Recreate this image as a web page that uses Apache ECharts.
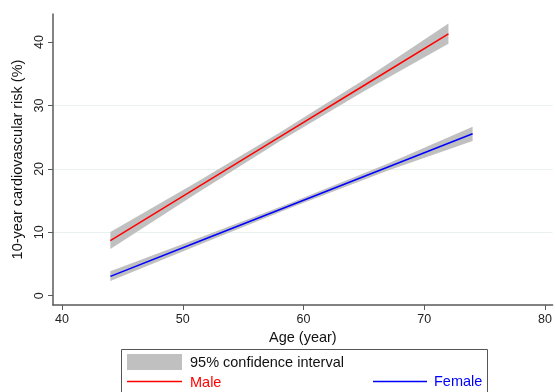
<!DOCTYPE html>
<html>
<head>
<meta charset="utf-8">
<script src="https://cdn.jsdelivr.net/npm/echarts@6/dist/echarts.min.js"></script>
<style>
html,body{margin:0;padding:0;background:#fff;}
#chart{width:555px;height:392px;}
</style>
</head>
<body>
<div id="chart"></div>
<script>
// ---- data ----
const maleAge = [44, 51, 58, 65, 72];
const maleRisk = [8.7, 16.85, 25.0, 33.15, 41.3];
const maleLower = [7.35, 15.95, 24.3, 32.25, 39.75];
const maleUpper = [10.05, 17.75, 25.7, 34.05, 42.95];

const femaleAge = [44, 51, 59, 67, 74];
const femaleRisk = [3.05, 8.3, 14.3, 20.3, 25.55];
const femaleLower = [2.3, 7.75, 13.9, 19.75, 24.4];
const femaleUpper = [3.85, 8.85, 14.7, 20.85, 26.65];

const xTicks = [40, 50, 60, 70, 80];
const yTicks = [0, 10, 20, 30, 40];

const xTitle = 'Age (year)';
const yTitle = '10-year cardiovascular risk (%)';
const legendCI = '95% confidence interval';
const legendMale = 'Male';
const legendFemale = 'Female';

const FONT = 'Liberation Sans, Arial, sans-serif';
const AXIS_COLOR = '#5a5a5a';
const BAND_COLOR = '#c0c0c0';

function bandSeries(ages, lower, upper) {
  return {
    type: 'custom',
    silent: true,
    z: 1,
    data: ages.map((a, i) => [a, lower[i], upper[i]]),
    renderItem: function (params, api) {
      if (params.dataIndex !== 0) return null;
      const pts = [];
      for (let i = 0; i < ages.length; i++) pts.push(api.coord([ages[i], upper[i]]));
      for (let i = ages.length - 1; i >= 0; i--) pts.push(api.coord([ages[i], lower[i]]));
      return {
        type: 'polygon',
        shape: { points: pts },
        style: { fill: BAND_COLOR, stroke: null }
      };
    }
  };
}

function lineSeries(ages, vals, color) {
  return {
    type: 'line',
    z: 3,
    silent: true,
    symbol: 'none',
    data: ages.map((a, i) => [a, vals[i]]),
    lineStyle: { color: color, width: 1.5 },
    animation: false
  };
}

const chart = echarts.init(document.getElementById('chart'), null, { renderer: 'canvas' });

const option = {
  animation: false,
  backgroundColor: '#fff',
  textStyle: { fontFamily: FONT },
  grid: { left: 53, top: 14, right: 0, bottom: 87, containLabel: false },
  xAxis: {
    type: 'value',
    min: 39.25,
    max: 80.63,
    splitNumber: 5,
    name: xTitle,
    nameLocation: 'middle',
    nameGap: 24,
    nameTextStyle: { fontSize: 14.5, color: '#111', fontFamily: FONT },
    axisLine: { show: true, onZero: false, lineStyle: { color: AXIS_COLOR, width: 1.5 } },
    axisTick: { show: true, customValues: xTicks, length: 5, lineStyle: { color: AXIS_COLOR, width: 1 } },
    axisLabel: { customValues: xTicks, fontSize: 12.5, color: '#222', margin: 8, fontFamily: FONT },
    splitLine: { show: false }
  },
  yAxis: {
    type: 'value',
    min: -1.47,
    max: 44.43,
    splitNumber: 5,
    name: yTitle,
    nameLocation: 'middle',
    nameGap: 26,
    nameTextStyle: { fontSize: 14.5, color: '#111', fontFamily: FONT },
    axisLine: { show: true, onZero: false, lineStyle: { color: AXIS_COLOR, width: 1.5 } },
    axisTick: { show: true, customValues: yTicks, length: 5, lineStyle: { color: AXIS_COLOR, width: 1 } },
    axisLabel: { customValues: yTicks, rotate: 90, fontSize: 12.5, color: '#222', margin: 7, fontFamily: FONT },
    splitLine: { show: true, showMinLine: false, showMaxLine: false, lineStyle: { color: '#e8f0f0', width: 1 } }
  },
  series: [
    bandSeries(maleAge, maleLower, maleUpper),
    bandSeries(femaleAge, femaleLower, femaleUpper),
    lineSeries(maleAge, maleRisk, '#ff0000'),
    lineSeries(femaleAge, femaleRisk, '#0000ff')
  ],
  graphic: [
    { type: 'rect', silent: true, z: 10,
      shape: { x: 121.5, y: 349.5, width: 366, height: 60 },
      style: { fill: '#fff', stroke: '#555', lineWidth: 1 } },
    { type: 'rect', silent: true, z: 11,
      shape: { x: 127, y: 354, width: 55, height: 16 },
      style: { fill: BAND_COLOR } },
    { type: 'text', silent: true, z: 11, x: 190, y: 363,
      style: { text: legendCI, fill: '#111', font: '14.5px ' + FONT, verticalAlign: 'middle', align: 'left' } },
    { type: 'line', silent: true, z: 11,
      shape: { x1: 127, y1: 381.5, x2: 182, y2: 381.5 },
      style: { stroke: '#ff0000', lineWidth: 1.5 } },
    { type: 'text', silent: true, z: 11, x: 190, y: 383,
      style: { text: legendMale, fill: '#ff0000', font: '14.5px ' + FONT, verticalAlign: 'middle', align: 'left' } },
    { type: 'line', silent: true, z: 11,
      shape: { x1: 373, y1: 381.5, x2: 427, y2: 381.5 },
      style: { stroke: '#0000ff', lineWidth: 1.5 } },
    { type: 'text', silent: true, z: 11, x: 434, y: 381.5,
      style: { text: legendFemale, fill: '#0000ff', font: '14.5px ' + FONT, verticalAlign: 'middle', align: 'left' } }
  ]
};
chart.setOption(option);
</script>
</body>
</html>
